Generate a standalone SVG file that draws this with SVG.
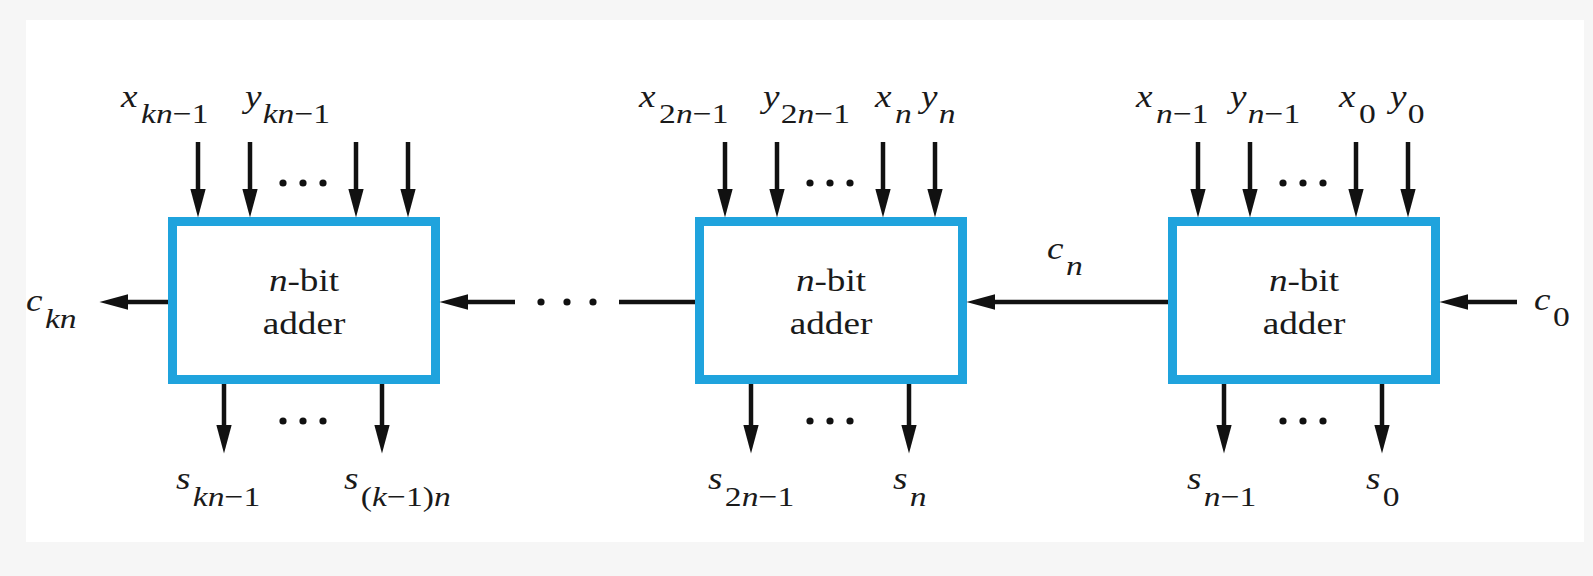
<svg xmlns="http://www.w3.org/2000/svg" width="1593" height="576" viewBox="0 0 1593 576">
  <style>
    .box { fill: #ffffff; stroke: #1fa3dd; stroke-width: 9; }
    .wire { stroke: #111; stroke-width: 4.5; fill: none; }
    .arr { marker-end: url(#ah); }
    .dot { fill: #111; }
    text { font-family: "Liberation Serif", "Times New Roman", serif; fill: #1a1a1a; }
    .lbl { font-size: 28px; }
    .m { font-size: 31px; font-style: italic; }
    .blk { font-size: 31px; }
    .i { font-style: italic; }
  </style>
  <defs>
    <marker id="ah" markerUnits="userSpaceOnUse" markerWidth="29" markerHeight="16" viewBox="0 0 28 15" refX="12" refY="7.5" orient="auto">
      <path d="M0,0 L28,7.5 L0,15 Z" fill="#111"/>
    </marker>
  </defs>
  <rect x="0" y="0" width="1593" height="576" fill="#f6f6f6"/>
  <rect x="26" y="20" width="1558" height="522" fill="#ffffff"/>

  <!-- nodes -->
  <g id="adder-k">
    <rect class="box" x="172.5" y="221.5" width="263" height="158"/>
    <text class="blk" text-anchor="middle" transform="translate(304,291) scale(1.2,1)"><tspan class="i">n</tspan>-bit</text>
    <text class="blk" text-anchor="middle" transform="translate(304,334) scale(1.2,1)">adder</text>
  </g>
  <g id="adder-2">
    <rect class="box" x="699.5" y="221.5" width="263" height="158"/>
    <text class="blk" text-anchor="middle" transform="translate(831,291) scale(1.2,1)"><tspan class="i">n</tspan>-bit</text>
    <text class="blk" text-anchor="middle" transform="translate(831,334) scale(1.2,1)">adder</text>
  </g>
  <g id="adder-1">
    <rect class="box" x="1172.5" y="221.5" width="263" height="158"/>
    <text class="blk" text-anchor="middle" transform="translate(1304,291) scale(1.2,1)"><tspan class="i">n</tspan>-bit</text>
    <text class="blk" text-anchor="middle" transform="translate(1304,334) scale(1.2,1)">adder</text>
  </g>

  <!-- connectors -->
  <g id="connectors">
    <!-- top inputs -->
    <line class="wire arr" x1="198" y1="142" x2="198" y2="201"/>
    <line class="wire arr" x1="250" y1="142" x2="250" y2="201"/>
    <line class="wire arr" x1="356" y1="142" x2="356" y2="201"/>
    <line class="wire arr" x1="408" y1="142" x2="408" y2="201"/>
    <line class="wire arr" x1="725" y1="142" x2="725" y2="201"/>
    <line class="wire arr" x1="777" y1="142" x2="777" y2="201"/>
    <line class="wire arr" x1="883" y1="142" x2="883" y2="201"/>
    <line class="wire arr" x1="935" y1="142" x2="935" y2="201"/>
    <line class="wire arr" x1="1198" y1="142" x2="1198" y2="201"/>
    <line class="wire arr" x1="1250" y1="142" x2="1250" y2="201"/>
    <line class="wire arr" x1="1356" y1="142" x2="1356" y2="201"/>
    <line class="wire arr" x1="1408" y1="142" x2="1408" y2="201"/>
    <!-- bottom outputs -->
    <line class="wire arr" x1="224" y1="384" x2="224" y2="437"/>
    <line class="wire arr" x1="382" y1="384" x2="382" y2="437"/>
    <line class="wire arr" x1="751" y1="384" x2="751" y2="437"/>
    <line class="wire arr" x1="909" y1="384" x2="909" y2="437"/>
    <line class="wire arr" x1="1224" y1="384" x2="1224" y2="437"/>
    <line class="wire arr" x1="1382" y1="384" x2="1382" y2="437"/>
    <!-- carries -->
    <line class="wire arr" x1="168" y1="302" x2="116" y2="302"/>
    <line class="wire arr" x1="515" y1="302" x2="456" y2="302"/>
    <line class="wire" x1="619" y1="302" x2="695" y2="302"/>
    <line class="wire arr" x1="1168" y1="302" x2="983" y2="302"/>
    <line class="wire arr" x1="1517" y1="302" x2="1456" y2="302"/>
    <!-- ellipses -->
    <circle class="dot" cx="283" cy="183" r="3.6"/><circle class="dot" cx="303" cy="183" r="3.6"/><circle class="dot" cx="323" cy="183" r="3.6"/>
    <circle class="dot" cx="810" cy="183" r="3.6"/><circle class="dot" cx="830" cy="183" r="3.6"/><circle class="dot" cx="850" cy="183" r="3.6"/>
    <circle class="dot" cx="1283" cy="183" r="3.6"/><circle class="dot" cx="1303" cy="183" r="3.6"/><circle class="dot" cx="1323" cy="183" r="3.6"/>
    <circle class="dot" cx="283" cy="421" r="3.6"/><circle class="dot" cx="303" cy="421" r="3.6"/><circle class="dot" cx="323" cy="421" r="3.6"/>
    <circle class="dot" cx="810" cy="421" r="3.6"/><circle class="dot" cx="830" cy="421" r="3.6"/><circle class="dot" cx="850" cy="421" r="3.6"/>
    <circle class="dot" cx="1283" cy="421" r="3.6"/><circle class="dot" cx="1303" cy="421" r="3.6"/><circle class="dot" cx="1323" cy="421" r="3.6"/>
    <circle class="dot" cx="541" cy="302" r="3.6"/><circle class="dot" cx="567" cy="302" r="3.6"/><circle class="dot" cx="593" cy="302" r="3.6"/>
  </g>

  <!-- signal labels -->
  <g id="labels" class="lbl">
    <text transform="translate(121,107) scale(1.2,1)"><tspan class="m">x</tspan><tspan class="i" dx="3" dy="16">kn</tspan><tspan>−1</tspan></text>
    <text transform="translate(245,107) scale(1.2,1)"><tspan class="m">y</tspan><tspan class="i" dx="1" dy="16">kn</tspan><tspan>−1</tspan></text>
    <text transform="translate(639,107) scale(1.2,1)"><tspan class="m">x</tspan><tspan dx="3" dy="16">2</tspan><tspan class="i">n</tspan><tspan>−1</tspan></text>
    <text transform="translate(763,107) scale(1.2,1)"><tspan class="m">y</tspan><tspan dx="1" dy="16">2</tspan><tspan class="i">n</tspan><tspan>−1</tspan></text>
    <text transform="translate(875,107) scale(1.2,1)"><tspan class="m">x</tspan><tspan class="i" dx="3" dy="16">n</tspan></text>
    <text transform="translate(921,107) scale(1.2,1)"><tspan class="m">y</tspan><tspan class="i" dx="1" dy="16">n</tspan></text>
    <text transform="translate(1136,107) scale(1.2,1)"><tspan class="m">x</tspan><tspan class="i" dx="3" dy="16">n</tspan><tspan>−1</tspan></text>
    <text transform="translate(1230,107) scale(1.2,1)"><tspan class="m">y</tspan><tspan class="i" dx="1" dy="16">n</tspan><tspan>−1</tspan></text>
    <text transform="translate(1339,107) scale(1.2,1)"><tspan class="m">x</tspan><tspan dx="3" dy="16">0</tspan></text>
    <text transform="translate(1390,107) scale(1.2,1)"><tspan class="m">y</tspan><tspan dx="1" dy="16">0</tspan></text>

    <text transform="translate(176,489) scale(1.2,1)"><tspan class="m">s</tspan><tspan class="i" dx="2" dy="17">kn</tspan><tspan>−1</tspan></text>
    <text transform="translate(344,489) scale(1.2,1)"><tspan class="m">s</tspan><tspan dx="2" dy="17">(</tspan><tspan class="i">k</tspan><tspan>−1)</tspan><tspan class="i">n</tspan></text>
    <text transform="translate(708,489) scale(1.2,1)"><tspan class="m">s</tspan><tspan dx="2" dy="17">2</tspan><tspan class="i">n</tspan><tspan>−1</tspan></text>
    <text transform="translate(893,489) scale(1.2,1)"><tspan class="m">s</tspan><tspan class="i" dx="2" dy="17">n</tspan></text>
    <text transform="translate(1187,489) scale(1.2,1)"><tspan class="m">s</tspan><tspan class="i" dx="2" dy="17">n</tspan><tspan>−1</tspan></text>
    <text transform="translate(1366,489) scale(1.2,1)"><tspan class="m">s</tspan><tspan dx="2" dy="17">0</tspan></text>

    <text transform="translate(26,311) scale(1.2,1)"><tspan class="m">c</tspan><tspan class="i" dx="2" dy="17">kn</tspan></text>
    <text transform="translate(1047,259) scale(1.2,1)"><tspan class="m">c</tspan><tspan class="i" dx="2" dy="16">n</tspan></text>
    <text transform="translate(1534,310) scale(1.2,1)"><tspan class="m">c</tspan><tspan dx="2" dy="16">0</tspan></text>
  </g>
</svg>
